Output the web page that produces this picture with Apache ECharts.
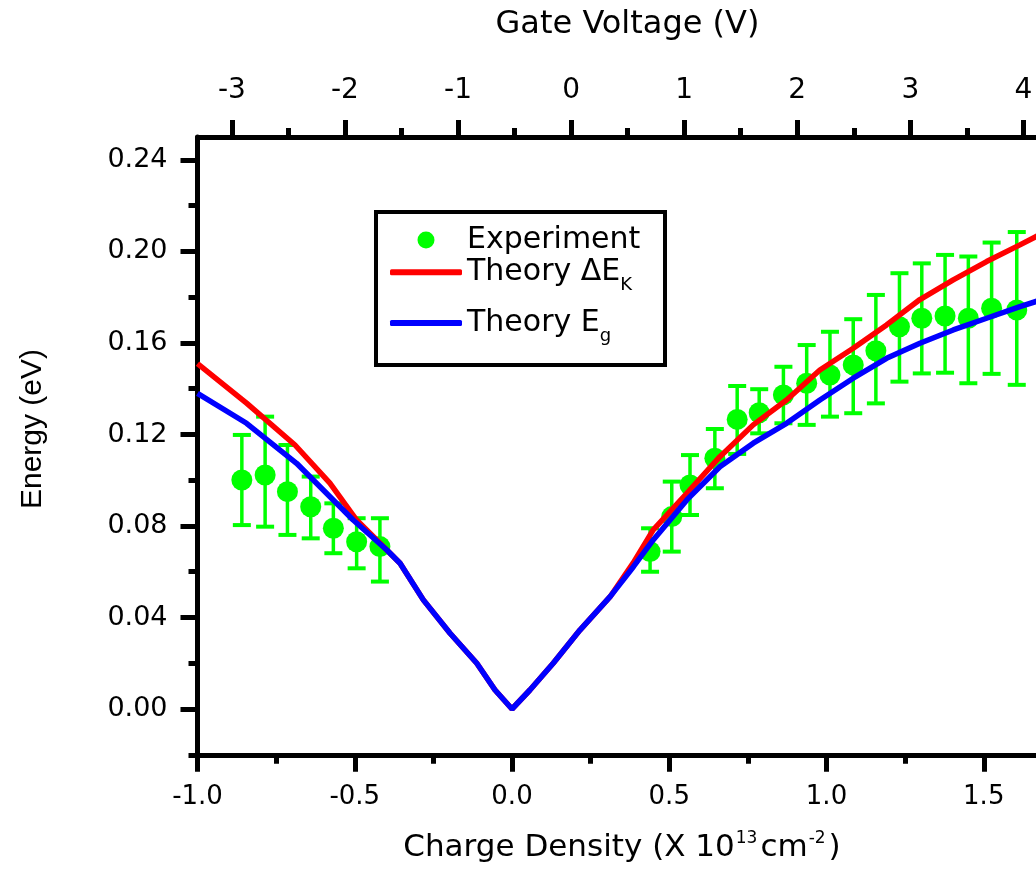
<!DOCTYPE html>
<html>
<head>
<meta charset="utf-8">
<script src="https://cdn.jsdelivr.net/npm/echarts@6/dist/echarts.min.js"></script>
<style>
html,body{margin:0;padding:0;background:#ffffff;}
#chart{width:1036px;height:881px;}
</style>
</head>
<body>
<div id="chart"></div>
<script>
// ---------------- data ----------------
const expCharge  = [-0.859, -0.785, -0.714, -0.640, -0.568, -0.494, -0.420,
                    0.439, 0.508, 0.566, 0.645, 0.716, 0.786, 0.863, 0.937, 1.011, 1.085,
                    1.157, 1.232, 1.303, 1.377, 1.451, 1.525, 1.605];
const expEnergy  = [0.1001, 0.1023, 0.0950, 0.0884, 0.0790, 0.0731, 0.0710,
                    0.0688, 0.0841, 0.0979, 0.1096, 0.1266, 0.1295, 0.1373, 0.1424, 0.1460, 0.1504,
                    0.1566, 0.1671, 0.1708, 0.1718, 0.1708, 0.1752, 0.1744];
const expErrLow  = [0.0804, 0.0797, 0.0761, 0.0746, 0.0681, 0.0615, 0.0557,
                    0.0600, 0.0688, 0.0848, 0.0965, 0.1115, 0.1205, 0.1249, 0.1242, 0.1278, 0.1293,
                    0.1336, 0.1431, 0.1467, 0.1470, 0.1424, 0.1465, 0.1417];
const expErrHigh = [0.1198, 0.1278, 0.1154, 0.1016, 0.0899, 0.0834, 0.0834,
                    0.0790, 0.0994, 0.1110, 0.1224, 0.1412, 0.1398, 0.1496, 0.1591, 0.1649, 0.1704,
                    0.1810, 0.1905, 0.1948, 0.1985, 0.1978, 0.2039, 0.2085];

const dekCharge = [-1.0, -0.844, -0.690, -0.579, -0.494, -0.398, -0.356, -0.282, -0.197, -0.112, -0.054, 0.0,
                   0.057, 0.131, 0.216, 0.312, 0.386, 0.449, 0.556, 0.661, 0.767, 0.873, 0.979, 1.085,
                   1.191, 1.297, 1.403, 1.509, 1.615, 1.670];
const dekEnergy = [0.151, 0.1337, 0.1154, 0.0987, 0.0826, 0.0695, 0.0637, 0.0477, 0.0331, 0.0200, 0.0083, 0.0,
                   0.0083, 0.0200, 0.0345, 0.0491, 0.0640, 0.0783, 0.0943, 0.1103, 0.1242, 0.1351, 0.1482, 0.1577,
                   0.1679, 0.1790, 0.1876, 0.1956, 0.2029, 0.2068];

const egCharge = [-1.0, -0.844, -0.685, -0.505, -0.398, -0.356, -0.282, -0.197, -0.112, -0.054, 0.0,
                  0.057, 0.131, 0.216, 0.312, 0.386, 0.449, 0.556, 0.661, 0.767, 0.873, 0.979, 1.085,
                  1.191, 1.297, 1.403, 1.509, 1.615, 1.670];
const egEnergy = [0.138, 0.1249, 0.1074, 0.0826, 0.0695, 0.0637, 0.0477, 0.0331, 0.0200, 0.0083, 0.0,
                  0.0083, 0.0200, 0.0345, 0.0491, 0.0622, 0.0739, 0.0914, 0.1059, 0.1162, 0.1249, 0.1351, 0.1446,
                  0.1533, 0.1599, 0.1657, 0.1708, 0.1759, 0.1783];

const chargeTicks      = [-1.0, -0.5, 0.0, 0.5, 1.0, 1.5, 2.0];
const chargeMinorTicks = [-0.75, -0.25, 0.25, 0.75, 1.25, 1.75];
const energyTicks      = [0.00, 0.04, 0.08, 0.12, 0.16, 0.20, 0.24];
const energyMinorTicks = [-0.02, 0.02, 0.06, 0.10, 0.14, 0.18, 0.22];
const gateTicks        = [-3, -2, -1, 0, 1, 2, 3, 4, 5];
const gateMinorTicks   = [-2.5, -1.5, -0.5, 0.5, 1.5, 2.5, 3.5, 4.5];

const seriesNames = ['Experiment', 'Theory \u0394EK', 'Theory Eg'];

// ---------------- layout ----------------
const W = 1036, H = 881;
const plotLeft = 197.5, plotTop = 137.1, plotBottom = 754.75;
const xMin = -1.0, xMax = 2.0, yMin = -0.02, yMax = 0.25;
const pxPerCharge = 314.5;
const plotRight = plotLeft + (xMax - xMin) * pxPerCharge;   // extends past the page edge
const gateZeroPx = 571.1, pxPerVolt = 113.07;
const gateMin = (plotLeft - gateZeroPx) / pxPerVolt;
const gateMax = (plotRight - gateZeroPx) / pxPerVolt;

const FONT = 'DejaVu Sans';
const BLACK = '#000000';
const GREEN = '#00ff00', RED = '#ff0000', BLUE = '#0000ff';

function axisBase(extra) {
  return Object.assign({
    type: 'value',
    gridIndex: 0,
    splitLine: { show: false },
    axisLine: { show: false, onZero: false, lineStyle: { color: BLACK, width: 5 } },
    axisTick: { show: true, inside: false, length: 17, lineStyle: { color: BLACK, width: 5 } },
    axisLabel: { show: false },
    axisPointer: { show: false }
  }, extra);
}
const labelStyle = { color: BLACK, fontFamily: FONT, fontSize: 26 };

const chart = echarts.init(document.getElementById('chart'), null, { renderer: 'canvas', width: W, height: H });

const legendRich = {
  n: { fontFamily: FONT, fontSize: 30, color: BLACK, lineHeight: 44, verticalAlign: 'middle' },
  e: { fontFamily: FONT, fontSize: 30, color: BLACK, lineHeight: 34, verticalAlign: 'middle' },
  s: { fontFamily: FONT, fontSize: 18, color: BLACK, lineHeight: 18, verticalAlign: 'bottom' }
};
function legendFormatter(name) {
  if (name === seriesNames[0]) return '{e|Experiment}';
  if (name === seriesNames[1]) return '{n|Theory \u0394E}{s|K}';
  return '{n|Theory E}{s|g}';
}
const legendLeft = 390, legendIconW = 72;
function legendAt(name, left, top, icon, itemHeight) {
  return {
    data: [name], left: left, top: top, orient: 'horizontal', padding: 0,
    icon: icon, itemWidth: legendIconW, itemHeight: itemHeight, selectedMode: false,
    formatter: legendFormatter,
    textStyle: { fontFamily: FONT, fontSize: 30, color: BLACK, rich: legendRich }
  };
}

const option = {
  animation: false,
  backgroundColor: '#ffffff',
  textStyle: { fontFamily: FONT },
  grid: { left: plotLeft, top: plotTop, right: W - plotRight, bottom: H - plotBottom, outerBoundsMode: 'none' },
  xAxis: [
    axisBase({
      position: 'bottom', min: xMin, max: xMax,
      axisLine: { show: true, onZero: false, lineStyle: { color: BLACK, width: 5 } },
      axisTick: { show: true, length: 17, customValues: chargeTicks, lineStyle: { color: BLACK, width: 5 } },
      axisLabel: Object.assign({ show: true, margin: 29, customValues: chargeTicks,
        formatter: v => Number(v).toFixed(1) }, labelStyle)
    }),
    axisBase({
      position: 'bottom', min: xMin, max: xMax,
      axisTick: { show: true, length: 9, customValues: chargeMinorTicks, lineStyle: { color: BLACK, width: 5 } }
    }),
    axisBase({
      position: 'top', min: gateMin, max: gateMax,
      axisLine: { show: true, onZero: false, lineStyle: { color: BLACK, width: 5 } },
      axisTick: { show: true, length: 17, customValues: gateTicks, lineStyle: { color: BLACK, width: 5 } },
      axisLabel: Object.assign({ show: true, margin: 32, customValues: gateTicks,
        formatter: v => String(Math.round(v)) }, labelStyle, { fontSize: 28 })
    }),
    axisBase({
      position: 'top', min: gateMin, max: gateMax,
      axisTick: { show: true, length: 9, customValues: gateMinorTicks, lineStyle: { color: BLACK, width: 5 } }
    })
  ],
  yAxis: [
    axisBase({
      position: 'left', min: yMin, max: yMax,
      axisLine: { show: true, onZero: false, lineStyle: { color: BLACK, width: 5 } },
      axisTick: { show: true, length: 17, customValues: energyTicks, lineStyle: { color: BLACK, width: 5 } },
      axisLabel: Object.assign({ show: true, margin: 30, customValues: energyTicks,
        formatter: v => Number(v).toFixed(2) }, labelStyle, { fontSize: 27 })
    }),
    axisBase({
      position: 'left', min: yMin, max: yMax,
      axisTick: { show: true, length: 9, customValues: energyMinorTicks, lineStyle: { color: BLACK, width: 5 } }
    })
  ],
  legend: [
    // the circle icon's bounding box starts at the circle itself, so shift by the empty icon space
    legendAt(seriesNames[0], legendLeft + (legendIconW - 17) / 2, 225, 'circle', 17),
    legendAt(seriesNames[1], legendLeft, 257.3, 'roundRect', 6),
    legendAt(seriesNames[2], legendLeft, 308, 'roundRect', 6)
  ],
  graphic: [
    { type: 'rect', z: 1, shape: { x: 376, y: 212, width: 289, height: 153 },
      style: { fill: 'rgba(0,0,0,0)', stroke: BLACK, lineWidth: 4 } },
    { type: 'text', x: 627.5, y: 25,
      style: { text: 'Gate Voltage (V)', font: '32px "DejaVu Sans"', fill: BLACK,
               align: 'center', verticalAlign: 'middle', textAlign: 'center', textVerticalAlign: 'middle' } },
    { type: 'text', x: 622, y: 848,
      style: { text: '{n|Charge Density (X 10}{s|13}{n|cm}{s|-2}{n|)}', fill: BLACK,
               font: '31px "DejaVu Sans"',
               align: 'center', verticalAlign: 'middle', textAlign: 'center', textVerticalAlign: 'middle',
               rich: {
                 n: { fontFamily: FONT, fontSize: 31, lineHeight: 36, verticalAlign: 'middle', fill: BLACK },
                 s: { fontFamily: FONT, fontSize: 17, lineHeight: 17, verticalAlign: 'top', fill: BLACK, padding: [0, 3, 0, 1] }
               } } },
    { type: 'text', x: 32.5, y: 429, rotation: Math.PI / 2,
      style: { text: 'Energy (eV)', font: '30px "Liberation Sans"', fill: BLACK,
               align: 'center', verticalAlign: 'middle', textAlign: 'center', textVerticalAlign: 'middle' } }
  ],
  series: [
    {
      name: 'Experiment error', type: 'custom', xAxisIndex: 0, yAxisIndex: 0, z: 2, silent: true,
      encode: { x: 0, y: [2, 3] },
      data: expCharge.map((x, i) => [x, expEnergy[i], expErrLow[i], expErrHigh[i]]),
      renderItem: function (params, api) {
        const x = api.value(0);
        const pLo = api.coord([x, api.value(2)]);
        const pHi = api.coord([x, api.value(3)]);
        const hw = 9;
        return {
          type: 'group',
          children: [
            { type: 'line', shape: { x1: pLo[0], y1: pLo[1], x2: pHi[0], y2: pHi[1] }, style: { stroke: GREEN, lineWidth: 3.5 } },
            { type: 'line', shape: { x1: pLo[0] - hw, y1: pLo[1], x2: pLo[0] + hw, y2: pLo[1] }, style: { stroke: GREEN, lineWidth: 4 } },
            { type: 'line', shape: { x1: pHi[0] - hw, y1: pHi[1], x2: pHi[0] + hw, y2: pHi[1] }, style: { stroke: GREEN, lineWidth: 4 } }
          ]
        };
      }
    },
    {
      name: seriesNames[0], type: 'scatter', xAxisIndex: 0, yAxisIndex: 0, z: 2,
      symbol: 'circle', symbolSize: 21,
      itemStyle: { color: GREEN, opacity: 1 },
      data: expCharge.map((x, i) => [x, expEnergy[i]])
    },
    {
      name: seriesNames[1], type: 'line', xAxisIndex: 0, yAxisIndex: 0, z: 3,
      symbol: 'none', showSymbol: false, smooth: false,
      lineStyle: { color: RED, width: 5.5 }, itemStyle: { color: RED },
      data: dekCharge.map((x, i) => [x, dekEnergy[i]])
    },
    {
      name: seriesNames[2], type: 'line', xAxisIndex: 0, yAxisIndex: 0, z: 3,
      symbol: 'none', showSymbol: false, smooth: false,
      lineStyle: { color: BLUE, width: 5.5 }, itemStyle: { color: BLUE },
      data: egCharge.map((x, i) => [x, egEnergy[i]])
    }
  ]
};
chart.setOption(option);
</script>
</body>
</html>
